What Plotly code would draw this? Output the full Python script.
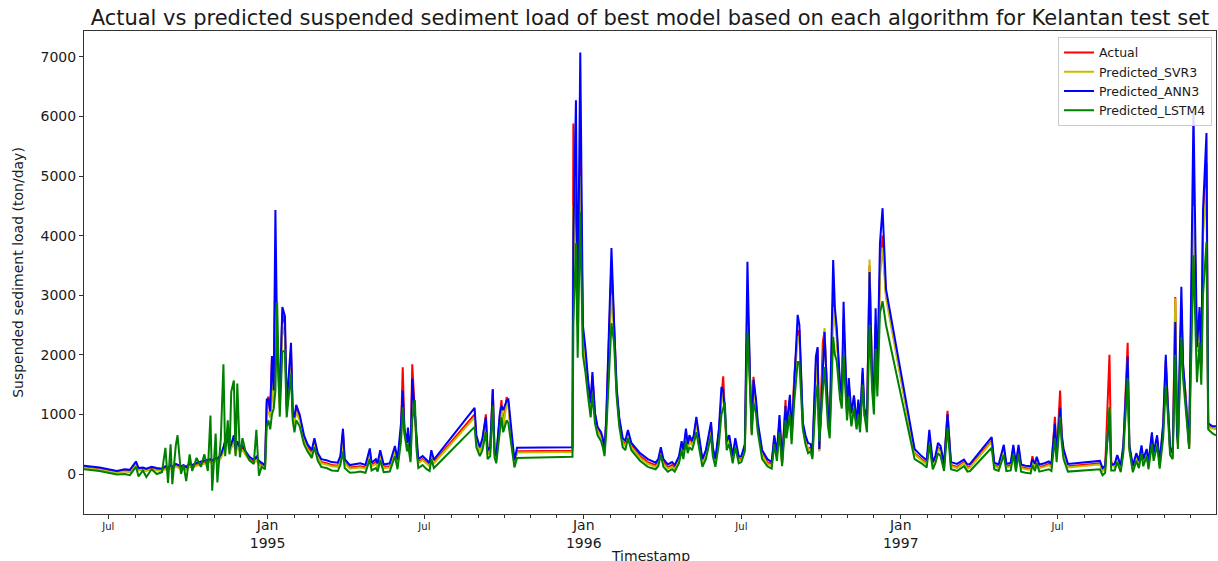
import plotly.graph_objects as go

dates = [
    "1994-06-03", "1994-06-21", "1994-07-11", "1994-07-20", "1994-07-26", "1994-08-02", "1994-08-05", "1994-08-10", "1994-08-14", "1994-08-20",
    "1994-08-26", "1994-09-01", "1994-09-05", "1994-09-08", "1994-09-11", "1994-09-13", "1994-09-17", "1994-09-19", "1994-09-23", "1994-09-26",
    "1994-09-29", "1994-10-03", "1994-10-06", "1994-10-11", "1994-10-16", "1994-10-20", "1994-10-24", "1994-10-27", "1994-10-29", "1994-11-02",
    "1994-11-04", "1994-11-08", "1994-11-11", "1994-11-13", "1994-11-16", "1994-11-18", "1994-11-20", "1994-11-23", "1994-11-25", "1994-11-27",
    "1994-11-30", "1994-12-03", "1994-12-07", "1994-12-11", "1994-12-16", "1994-12-19", "1994-12-22", "1994-12-25", "1994-12-29", "1994-12-31",
    "1995-01-02", "1995-01-04", "1995-01-06", "1995-01-08", "1995-01-10", "1995-01-12", "1995-01-15", "1995-01-18", "1995-01-21", "1995-01-23",
    "1995-01-28", "1995-01-30", "1995-02-01", "1995-02-03", "1995-02-07", "1995-02-12", "1995-02-16", "1995-02-21", "1995-02-24", "1995-02-28",
    "1995-03-04", "1995-03-10", "1995-03-16", "1995-03-23", "1995-03-26", "1995-03-29", "1995-03-31", "1995-04-06", "1995-04-13", "1995-04-18",
    "1995-04-24", "1995-04-29", "1995-05-01", "1995-05-06", "1995-05-08", "1995-05-11", "1995-05-15", "1995-05-22", "1995-05-28", "1995-05-31",
    "1995-06-04", "1995-06-06", "1995-06-08", "1995-06-11", "1995-06-12", "1995-06-15", "1995-06-17", "1995-06-20", "1995-06-22", "1995-06-24",
    "1995-06-29", "1995-07-03", "1995-07-07", "1995-07-09", "1995-07-12", "1995-08-28", "1995-08-30", "1995-09-03", "1995-09-06", "1995-09-10",
    "1995-09-12", "1995-09-15", "1995-09-18", "1995-09-20", "1995-09-22", "1995-09-26", "1995-09-28", "1995-09-30", "1995-10-04", "1995-10-06",
    "1995-10-10", "1995-10-13", "1995-10-16", "1995-12-18", "1995-12-19", "1995-12-20", "1995-12-23", "1995-12-25", "1995-12-28", "1995-12-31",
    "1996-01-03", "1996-01-06", "1996-01-09", "1996-01-11", "1996-01-14", "1996-01-17", "1996-01-21", "1996-01-23", "1996-01-25", "1996-01-27",
    "1996-01-30", "1996-02-02", "1996-02-05", "1996-02-08", "1996-02-11", "1996-02-15", "1996-02-18", "1996-02-21", "1996-02-25", "1996-03-06",
    "1996-03-15", "1996-03-24", "1996-03-27", "1996-03-30", "1996-04-02", "1996-04-07", "1996-04-12", "1996-04-15", "1996-04-20", "1996-04-23",
    "1996-04-25", "1996-04-28", "1996-04-30", "1996-05-02", "1996-05-05", "1996-05-07", "1996-05-10", "1996-05-14", "1996-05-17", "1996-05-21",
    "1996-05-24", "1996-05-27", "1996-05-29", "1996-06-01", "1996-06-05", "1996-06-08", "1996-06-10", "1996-06-12", "1996-06-14", "1996-06-17",
    "1996-06-21", "1996-06-24", "1996-06-28", "1996-07-01", "1996-07-05", "1996-07-08", "1996-07-11", "1996-07-13", "1996-07-15", "1996-07-18",
    "1996-07-20", "1996-07-25", "1996-07-31", "1996-08-05", "1996-08-08", "1996-08-11", "1996-08-14", "1996-08-17", "1996-08-21", "1996-08-22",
    "1996-08-26", "1996-08-28", "1996-08-31", "1996-09-04", "1996-09-06", "1996-09-10", "1996-09-13", "1996-09-16", "1996-09-19", "1996-09-21",
    "1996-09-25", "1996-09-27", "1996-09-29", "1996-10-03", "1996-10-05", "1996-10-09", "1996-10-11", "1996-10-15", "1996-10-17", "1996-10-19",
    "1996-10-23", "1996-10-25", "1996-10-27", "1996-10-31", "1996-11-02", "1996-11-05", "1996-11-08", "1996-11-11", "1996-11-13", "1996-11-15",
    "1996-11-18", "1996-11-20", "1996-11-23", "1996-11-26", "1996-11-29", "1996-12-01", "1996-12-03", "1996-12-05", "1996-12-08", "1996-12-11",
    "1996-12-15", "1997-01-17", "1997-01-25", "1997-01-31", "1997-02-03", "1997-02-07", "1997-02-10", "1997-02-13", "1997-02-16", "1997-02-20",
    "1997-02-24", "1997-02-28", "1997-03-07", "1997-03-15", "1997-03-19", "1997-03-22", "1997-04-16", "1997-04-19", "1997-04-24", "1997-04-30",
    "1997-05-03", "1997-05-08", "1997-05-11", "1997-05-14", "1997-05-17", "1997-05-20", "1997-05-25", "1997-05-31", "1997-06-02", "1997-06-05",
    "1997-06-07", "1997-06-10", "1997-06-16", "1997-06-21", "1997-06-24", "1997-06-28", "1997-06-30", "1997-07-04", "1997-07-06", "1997-07-08",
    "1997-07-13", "1997-08-19", "1997-08-22", "1997-08-25", "1997-08-30", "1997-09-01", "1997-09-05", "1997-09-08", "1997-09-12", "1997-09-15",
    "1997-09-20", "1997-09-22", "1997-09-26", "1997-09-30", "1997-10-03", "1997-10-06", "1997-10-08", "1997-10-12", "1997-10-14", "1997-10-18",
    "1997-10-20", "1997-10-24", "1997-10-27", "1997-10-31", "1997-11-03", "1997-11-05", "1997-11-08", "1997-11-11", "1997-11-14", "1997-11-16",
    "1997-11-17", "1997-11-21", "1997-11-23", "1997-11-26", "1997-11-30", "1997-12-05", "1997-12-09", "1997-12-12", "1997-12-14", "1997-12-16",
    "1997-12-20", "1997-12-22", "1997-12-27", "1997-12-31",
]

actual = [
    110, 80, 30, 60, 40, 180, 70, 90, 60, 90,
    70, 60, 100, 80, 120, 90, 150, 130, 100, 120,
    90, 150, 120, 160, 180, 200, 210, 220, 200, 240,
    230, 280, 400, 500, 550, 380, 450, 600, 350, 500,
    400, 420, 330, 250, 200, 250, 180, 150, 120, 1200,
    1300, 1000, 1950, 1200, 3600, 2000, 1200, 2700, 2500, 1100,
    2100, 1000, 900, 1100, 950, 600, 450, 350, 550, 300,
    200, 180, 150, 140, 250, 700, 200, 110, 120, 130,
    110, 380, 150, 200, 130, 350, 120, 130, 420, 200,
    700, 1790, 700, 500, 700, 300, 1840, 1000, 500, 200,
    250, 200, 150, 350, 200, 1000, 600, 400, 550, 1000,
    350, 400, 1420, 350, 250, 950, 1240, 800, 1290, 1200,
    500, 180, 380, 390, 400, 5880, 3500, 2500, 5500, 2400,
    2000, 1500, 1150, 1650, 1000, 750, 650, 550, 380, 900,
    2200, 3500, 2500, 1400, 900, 550, 500, 700, 480, 300,
    200, 150, 200, 400, 200, 110, 150, 100, 250, 500,
    350, 700, 450, 600, 500, 600, 900, 500, 200, 350,
    600, 820, 400, 200, 700, 1300, 1640, 1000, 500, 600,
    250, 550, 250, 250, 450, 3000, 1500, 690, 1630, 1200,
    800, 350, 200, 160, 600, 300, 900, 180, 1240, 700,
    1250, 600, 1630, 2400, 2400, 800, 600, 400, 450, 300,
    1800, 2100, 400, 2200, 2400, 1000, 700, 3000, 2600, 2400,
    1400, 1200, 2600, 1000, 1500, 850, 1300, 800, 1200, 800,
    1700, 1000, 850, 3500, 1500, 1250, 2500, 1500, 3400, 4000,
    3000, 350, 250, 180, 600, 150, 250, 450, 400, 120,
    1060, 150, 120, 200, 110, 130, 560, 150, 120, 420,
    130, 150, 430, 130, 440, 120, 100, 90, 300, 130,
    260, 120, 140, 170, 130, 960, 300, 1400, 600, 380,
    130, 180, 60, 100, 2000, 200, 130, 270, 100, 420,
    2200, 450, 100, 300, 180, 430, 200, 380, 150, 650,
    300, 600, 150, 800, 1900, 1200, 400, 300, 2970, 700,
    500, 2800, 1800, 1330, 450, 5000, 2100, 2500, 1800, 4250,
    5220, 800, 770, 760,
]

svr3 = [
    100, 70, 20, 40, 30, 150, 60, 70, 50, 80,
    60, 50, 80, 60, 100, 80, 130, 110, 80, 100,
    70, 130, 100, 140, 160, 180, 190, 200, 180, 220,
    210, 260, 380, 480, 520, 360, 430, 580, 330, 480,
    380, 400, 310, 230, 180, 230, 160, 130, 100, 1000,
    1050, 950, 1700, 1100, 3200, 1900, 1100, 2500, 2300, 1050,
    1900, 950, 850, 1050, 900, 560, 420, 320, 500, 280,
    180, 160, 130, 120, 220, 600, 180, 90, 100, 110,
    90, 330, 130, 170, 110, 310, 100, 110, 380, 180,
    600, 1100, 650, 450, 650, 280, 1300, 1000, 480, 180,
    230, 180, 130, 320, 180, 950, 560, 380, 520, 900,
    330, 380, 1300, 330, 230, 900, 1150, 780, 1200, 1150,
    480, 160, 360, 370, 380, 4500, 3500, 2500, 5000, 2300,
    1900, 1450, 1100, 1550, 950, 720, 620, 520, 360, 850,
    2000, 3000, 2400, 1350, 870, 520, 470, 650, 450, 270,
    170, 120, 170, 350, 170, 90, 120, 80, 220, 450,
    320, 650, 420, 550, 480, 550, 850, 480, 180, 320,
    550, 780, 370, 180, 650, 1200, 1400, 950, 480, 570,
    230, 520, 230, 230, 420, 2500, 1400, 680, 1450, 1150,
    780, 320, 170, 140, 550, 280, 850, 160, 1100, 680,
    1200, 580, 1500, 2300, 2300, 780, 580, 400, 420, 290,
    1600, 1900, 380, 1900, 2450, 950, 680, 2800, 2500, 2300,
    1350, 1150, 2500, 950, 1450, 830, 1250, 780, 1150, 780,
    1600, 980, 830, 3600, 1450, 1200, 2400, 1450, 3300, 3800,
    2950, 330, 230, 160, 550, 130, 230, 420, 380, 100,
    950, 130, 100, 180, 90, 110, 540, 130, 100, 380,
    110, 120, 400, 110, 400, 100, 80, 70, 220, 110,
    230, 100, 120, 150, 110, 850, 280, 1100, 580, 360,
    110, 160, 50, 80, 1100, 180, 110, 250, 80, 400,
    1900, 430, 80, 280, 160, 400, 180, 350, 130, 600,
    280, 560, 130, 750, 1800, 1150, 380, 280, 2950, 680,
    480, 2700, 1750, 1250, 430, 4500, 2050, 2400, 1700, 4000,
    4800, 780, 760, 750,
]

ann3 = [
    140, 110, 50, 80, 70, 210, 100, 110, 90, 120,
    100, 90, 130, 100, 150, 120, 170, 160, 130, 150,
    120, 180, 150, 190, 210, 230, 240, 250, 230, 270,
    260, 320, 450, 560, 600, 420, 500, 650, 400, 550,
    450, 470, 370, 290, 240, 290, 220, 190, 150, 1250,
    1250, 1050, 1980, 1400, 4430, 2200, 1300, 2800, 2650, 1150,
    2200, 1050, 950, 1160, 1000, 650, 500, 400, 600, 350,
    250, 230, 200, 190, 300, 760, 250, 150, 170, 180,
    150, 430, 190, 250, 180, 400, 160, 180, 470, 240,
    850, 1400, 750, 520, 780, 320, 1600, 1050, 550, 250,
    300, 240, 190, 400, 240, 1110, 650, 450, 600, 950,
    400, 450, 1420, 400, 300, 1000, 1150, 1070, 1230, 1250,
    600, 230, 440, 460, 450, 4000, 6270, 2580, 7070, 2500,
    2100, 1580, 1190, 1710, 1020, 790, 700, 600, 420, 940,
    2250, 3790, 2550, 1450, 950, 600, 560, 740, 520, 350,
    250, 190, 250, 450, 250, 160, 200, 150, 300, 550,
    400, 760, 500, 650, 560, 650, 960, 550, 250, 400,
    650, 870, 450, 250, 750, 1460, 1400, 1060, 550, 650,
    300, 600, 290, 300, 500, 3560, 1600, 740, 1580, 1240,
    870, 400, 250, 200, 650, 350, 990, 230, 1140, 760,
    1330, 660, 1500, 2670, 2500, 860, 650, 520, 500, 350,
    1970, 2130, 420, 1880, 2380, 1040, 800, 3590, 2790, 2470,
    1500, 1300, 2890, 1040, 1610, 1020, 1320, 850, 1250, 900,
    1780, 1100, 930, 3390, 1600, 1320, 2780, 1600, 3870, 4460,
    3100, 420, 300, 230, 740, 200, 300, 520, 470, 170,
    1000, 200, 170, 240, 160, 170, 620, 190, 160, 490,
    170, 190, 490, 170, 490, 160, 140, 130, 250, 170,
    290, 160, 180, 210, 170, 850, 350, 1110, 650, 420,
    170, 220, 100, 140, 990, 150, 170, 320, 140, 490,
    1970, 480, 140, 350, 220, 480, 250, 420, 190, 700,
    350, 650, 200, 840, 2000, 1280, 450, 350, 2550, 660,
    550, 3140, 1840, 1240, 480, 6070, 2130, 2800, 1850, 4430,
    5720, 850, 800, 800,
]

lstm4 = [
    80, 50, -10, 0, -20, 120, -40, 60, -50, 80,
    0, 30, 440, -150, 500, -170, 480, 650, 0, 150,
    -120, 330, 50, 270, 120, 330, 50, 980, -280, 680,
    -140, 600, 1840, 300, 900, 330, 1380, 1570, 300, 1520,
    280, 600, 350, 230, 170, 740, -30, 120, 80, 800,
    900, 750, 1000, 1100, 1400, 2880, 960, 2050, 2070, 950,
    1680, 900, 700, 900, 800, 500, 380, 270, 450, 220,
    120, 100, 60, 50, 150, 380, 100, 20, 30, 40,
    20, 250, 60, 100, 40, 230, 30, 40, 300, 80,
    550, 1120, 700, 380, 500, 200, 900, 1240, 400, 100,
    150, 90, 50, 250, 100, 790, 450, 300, 400, 700,
    250, 300, 1150, 280, 180, 700, 950, 700, 900, 850,
    400, 110, 270, 280, 290, 2500, 3870, 1950, 4400, 2000,
    1700, 1300, 950, 1350, 850, 650, 550, 450, 300, 700,
    1600, 2530, 2200, 1300, 800, 450, 400, 600, 400, 220,
    120, 80, 130, 320, 120, 40, 80, 40, 180, 400,
    250, 550, 350, 450, 400, 500, 700, 400, 120, 250,
    450, 650, 300, 120, 500, 1000, 1100, 1200, 400, 500,
    180, 450, 180, 200, 380, 2380, 1500, 650, 1200, 1000,
    700, 250, 130, 90, 500, 220, 700, 130, 900, 600,
    1000, 500, 1200, 1880, 1880, 750, 500, 350, 380, 250,
    1300, 1500, 550, 1500, 1800, 800, 600, 2300, 2000, 1900,
    1250, 1100, 2000, 900, 1300, 800, 1100, 750, 1000, 700,
    1500, 1000, 700, 2500, 1400, 1000, 2100, 1300, 2700, 2900,
    2500, 250, 180, 110, 500, 80, 180, 350, 300, 50,
    780, 80, 50, 130, 40, 50, 440, 80, 50, 320,
    50, 60, 330, 40, 330, 40, 20, 10, 150, 50,
    180, 40, 60, 80, 50, 600, 200, 960, 500, 250,
    40, 80, -20, 20, 1120, 60, 60, 200, 30, 350,
    1610, 400, 30, 220, 100, 350, 130, 300, 80, 500,
    220, 480, 90, 600, 1490, 1100, 320, 250, 2000, 600,
    420, 2300, 1600, 1100, 420, 3670, 1540, 2200, 1500, 3000,
    3890, 750, 680, 650,
]

series_names = ["Actual", "Predicted_SVR3", "Predicted_ANN3", "Predicted_LSTM4"]
series_colors = ["#ff0000", "#bfbf00", "#0000ff", "#008000"]

y_ticks = [0, 1000, 2000, 3000, 4000, 5000, 6000, 7000]
x_tick_dates = ["1994-07-01", "1995-01-01", "1995-07-01", "1996-01-01", "1996-07-01", "1997-01-01", "1997-07-01"]
x_tick_text = ["<span style='font-size:10px'>Jul</span>", "Jan<br>1995",
               "<span style='font-size:10px'>Jul</span>", "Jan<br>1996",
               "<span style='font-size:10px'>Jul</span>", "Jan<br>1997",
               "<span style='font-size:10px'>Jul</span>"]

FONT = "DejaVu Sans"
INK = "#1a1a1a"

fig = go.Figure()
for name, vals, col in zip(series_names, [actual, svr3, ann3, lstm4], series_colors):
    fig.add_trace(go.Scatter(x=dates, y=vals, mode="lines", name=name,
                             line=dict(color=col, width=2)))

fig.update_layout(
    width=1218, height=561,
    margin=dict(l=84, r=2, t=31, b=47),
    paper_bgcolor="white", plot_bgcolor="white",
    font=dict(family=FONT, color=INK, size=14),
    title=dict(text="Actual vs predicted suspended sediment load of best model based on each algorithm for Kelantan test set",
               x=0.5, xref="paper", xanchor="center",
               y=1 - 18 / 561, yref="container", yanchor="middle",
               font=dict(size=21, family=FONT, color=INK)),
    showlegend=True,
    legend=dict(x=0.9965, y=0.988, xanchor="right", yanchor="top",
                bgcolor="rgba(255,255,255,0.85)", bordercolor="#cccccc", borderwidth=1,
                font=dict(size=12.5, family=FONT, color=INK), itemwidth=30,
                tracegroupgap=0),
    xaxis=dict(type="date", range=["1994-06-03", "1997-12-31"],
               tickmode="array", tickvals=x_tick_dates, ticktext=x_tick_text,
               ticks="outside", ticklen=4, tickcolor="#333333", tickwidth=1,
               ticklabelstandoff=-6,
               tickfont=dict(size=14, family=FONT, color=INK),
               minor=dict(dtick="M1", tick0="1994-01-01", ticks="outside", ticklen=2.5,
                          tickcolor="#333333", showgrid=False),
               showline=True, linecolor="#333333", linewidth=1, mirror=True,
               showgrid=False, zeroline=False),
    yaxis=dict(range=[-671, 7433], tickmode="array", tickvals=y_ticks,
               ticks="outside", ticklen=4, tickcolor="#333333",
               tickfont=dict(size=14, family=FONT, color=INK),
               title=dict(text="Suspended sediment load (ton/day)", standoff=13,
                          font=dict(size=14, family=FONT, color=INK)),
               showline=True, linecolor="#333333", linewidth=1, mirror=True,
               showgrid=False, zeroline=False),
    annotations=[dict(text="Timestamp", x=0.5, xref="paper", y=-0.087, yref="paper",
                      xanchor="center", yanchor="middle", showarrow=False,
                      font=dict(size=14, family=FONT, color=INK))],
)

fig.write_html("out.html")
